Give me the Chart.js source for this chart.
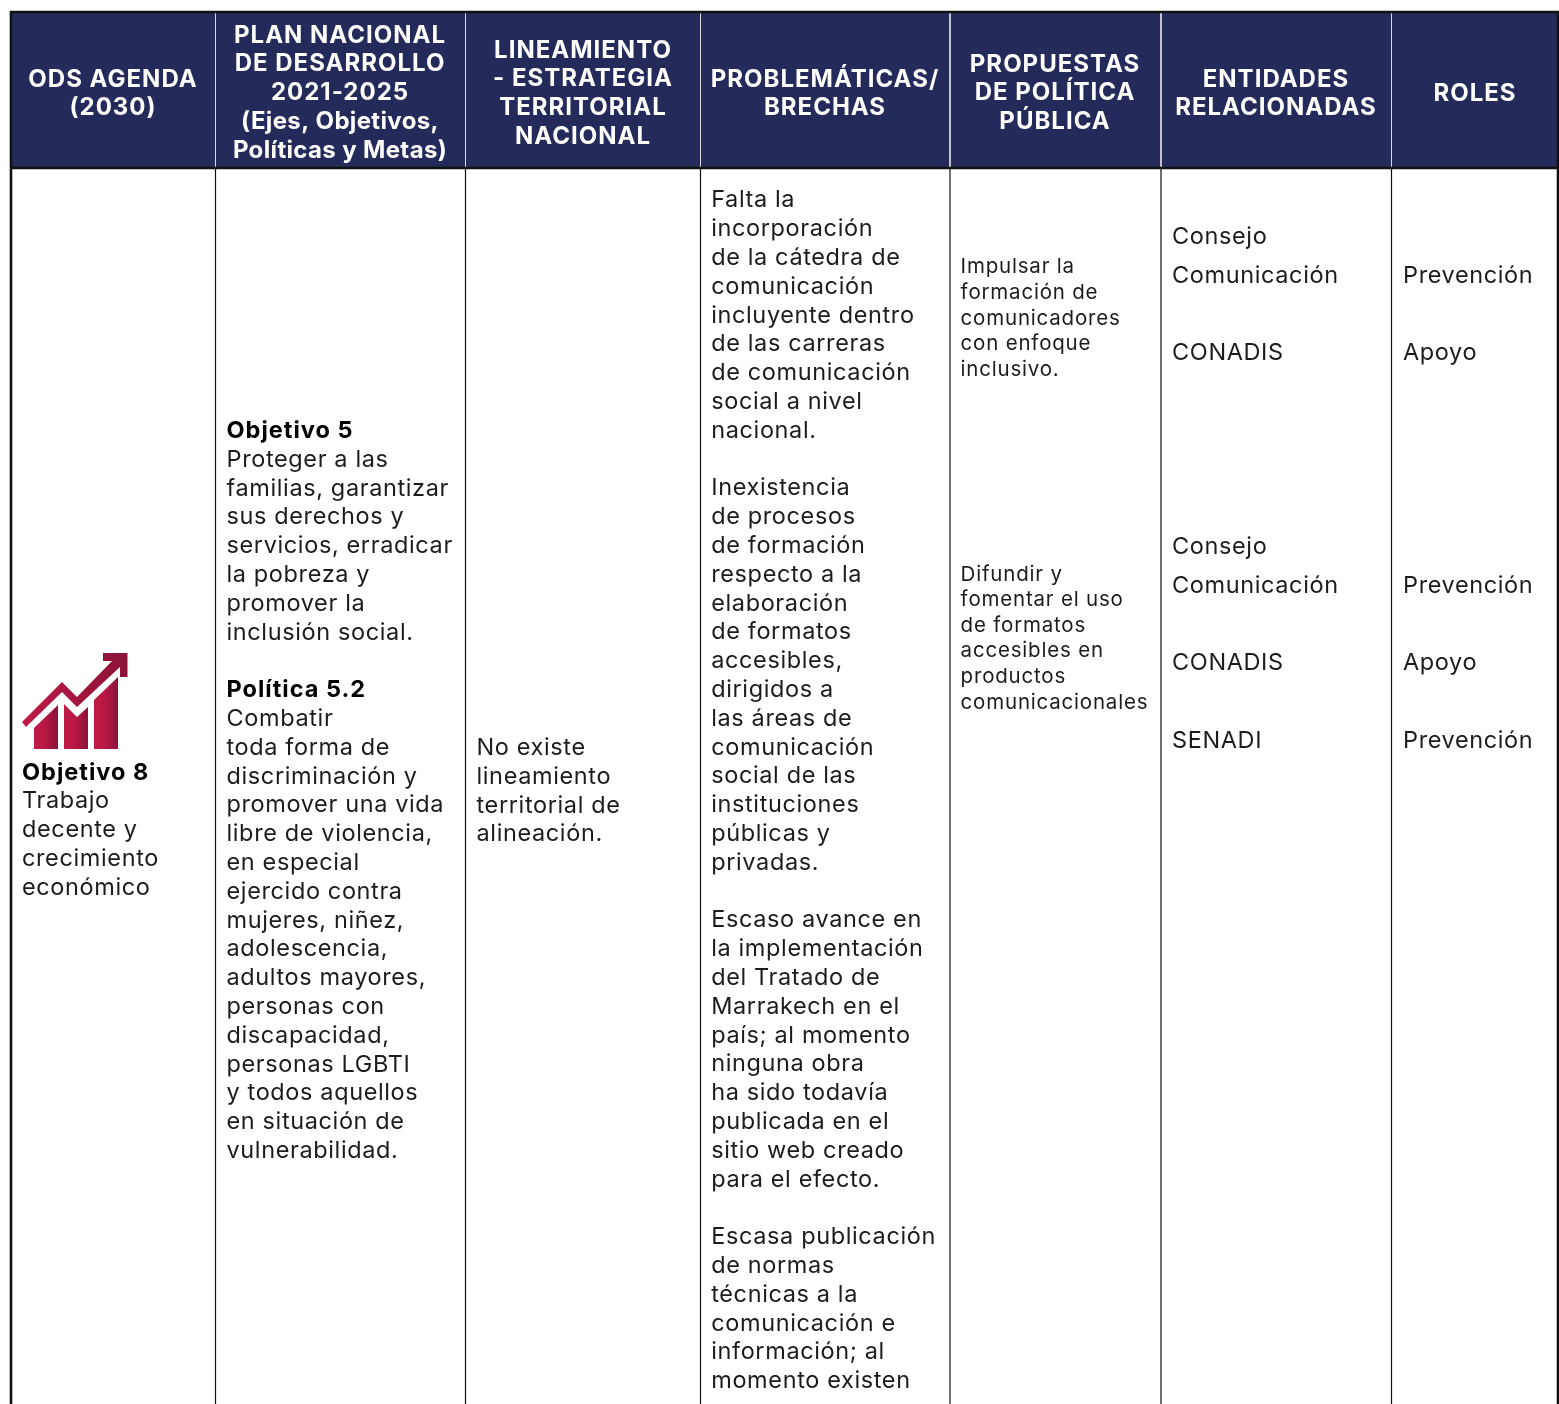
<!DOCTYPE html>
<html lang="es"><head><meta charset="utf-8">
<style>html,body{margin:0;padding:0;background:#fff}canvas{display:block}</style>
<script src="https://cdn.jsdelivr.net/npm/chart.js@4/dist/chart.umd.min.js"></script>
</head><body><canvas id="c" width="1559" height="1404"></canvas>
<script>
const headerOds=["ODS AGENDA","(2030)"];
const headerPlan=["PLAN NACIONAL","DE DESARROLLO","2021-2025","(Ejes, Objetivos,","Políticas y Metas)"];
const headerLineamiento=["LINEAMIENTO","- ESTRATEGIA","TERRITORIAL","NACIONAL"];
const headerProblematicas=["PROBLEMÁTICAS/","BRECHAS"];
const headerPropuestas=["PROPUESTAS","DE POLÍTICA","PÚBLICA"];
const headerEntidades=["ENTIDADES","RELACIONADAS"];
const headerRoles=["ROLES"];
const ods=["*Objetivo 8","Trabajo","decente y","crecimiento","económico"];
const plan=["*Objetivo 5","Proteger a las","familias, garantizar","sus derechos y","servicios, erradicar","la pobreza y","promover la","inclusión social.","","*Política 5.2","Combatir","toda forma de","discriminación y","promover una vida","libre de violencia,","en especial","ejercido contra","mujeres, niñez,","adolescencia,","adultos mayores,","personas con","discapacidad,","personas LGBTI","y todos aquellos","en situación de","vulnerabilidad."];
const lineamiento=["No existe","lineamiento","territorial de","alineación."];
const problematicas=["Falta la","incorporación","de la cátedra de","comunicación","incluyente dentro","de las carreras","de comunicación","social a nivel","nacional.","","Inexistencia","de procesos","de formación","respecto a la","elaboración","de formatos","accesibles,","dirigidos a","las áreas de","comunicación","social de las","instituciones","públicas y","privadas.","","Escaso avance en","la implementación","del Tratado de","Marrakech en el","país; al momento","ninguna obra","ha sido todavía","publicada en el","sitio web creado","para el efecto.","","Escasa publicación","de normas","técnicas a la","comunicación e","información; al","momento existen"];
const propuestas=["Impulsar la","formación de","comunicadores","con enfoque","inclusivo.","","","","","","","","Difundir y","fomentar el uso","de formatos","accesibles en","productos","comunicacionales"];
const entidades=["Consejo","Comunicación","","CONADIS","","","","","Consejo","Comunicación","","CONADIS","","SENADI"];
const roles=["","Prevención","","Apoyo","","","","","","Prevención","","Apoyo","","Prevención"];
const columnRules=[215.5,465.5,700.5,950,1161,1391.5];
const iconBars=[[[34,749],[34,728],[58,705],[58,749]],[[64,749],[64,704],[77,717],[88,707],[88,749]],[[94,749],[94,700],[118,677],[118,749]]];
const iconArrow=[[22,722],[62,682],[77,697],[112,661],[103,661],[103,653],[127.5,653],[127.5,677],[120,677],[120,667],[77,707],[62,692],[26,727]];

const NAVY='#242a5a', INK='#1c1c1c', FONT='Inter';
const headerBlocks=[[headerOds,113,78],[headerPlan,340,34],[headerLineamiento,583,49],[headerProblematicas,825,78],[headerPropuestas,1055,63],[headerEntidades,1276,78],[headerRoles,1475,92]];
const bodyBlocks=[[ods,22,771.5,28.8,23.5],[plan,226.5,430,28.8,23.5],[lineamiento,476.5,747,28.8,23.5],[problematicas,711.2,199.3,28.8,23.5],[propuestas,960.6,265.3,25.6,20.5],[entidades,1172,236,38.75,23.5],[roles,1403,236,38.75,23.5]];

const textPlugin={id:'tableText',afterDatasetsDraw(chart){
  const {ctx,scales:{x,y}}=chart;
  ctx.save();
  const poly=(pts)=>{ctx.beginPath();pts.forEach((p,i)=>{const X=x.getPixelForValue(p[0]),Y=y.getPixelForValue(p[1]);i?ctx.lineTo(X,Y):ctx.moveTo(X,Y);});ctx.closePath();};
  iconBars.forEach(b=>{const xs=b.map(p=>p[0]);const g=ctx.createLinearGradient(Math.min(...xs),0,Math.max(...xs),0);g.addColorStop(0,'#c01a46');g.addColorStop(.45,'#b81843');g.addColorStop(1,'#8a1339');ctx.fillStyle=g;poly(b);ctx.fill();});
  const ga=ctx.createLinearGradient(22,0,128,0);ga.addColorStop(0,'#c01a46');ga.addColorStop(1,'#8a1339');ctx.fillStyle=ga;poly(iconArrow);ctx.fill();
  ctx.textBaseline='alphabetic';
  ctx.fillStyle='#ffffff';ctx.textAlign='center';ctx.font='700 24px '+FONT;
  headerBlocks.forEach(([lines,cx,top])=>lines.forEach((t,i)=>{
    ctx.letterSpacing=(t===t.toUpperCase()?'1px':'0.35px');
    ctx.fillText(t,x.getPixelForValue(cx),y.getPixelForValue(top+i*28.8+8.5));
  }));
  ctx.textAlign='left';
  bodyBlocks.forEach(([lines,lx,top,pitch,size])=>lines.forEach((t,i)=>{
    if(!t)return;const bold=t[0]==='*';
    ctx.fillStyle=bold?'#000000':INK;
    ctx.font=(bold?'700 ':'400 ')+size+'px '+FONT;ctx.letterSpacing=bold?'1px':(size>22?'0.62px':'0.8px');
    ctx.fillText(bold?t.slice(1):t,x.getPixelForValue(lx),y.getPixelForValue(top+i*pitch+8));
  }));
  ctx.restore();
}};

const ruleSets=[];
columnRules.forEach(v=>{
  ruleSets.push({data:[{x:v,y:13},{x:v,y:167}],borderColor:'#d8d9e4',borderWidth:1,showLine:true,pointRadius:0,order:1});
  ruleSets.push({data:[{x:v,y:169},{x:v,y:1404}],borderColor:'#111111',borderWidth:1.2,showLine:true,pointRadius:0,order:1});
});
new Chart(document.getElementById('c'),{
  type:'scatter',
  data:{datasets:[
    {data:[{x:11,y:12},{x:1558,y:12}],showLine:true,pointRadius:0,borderWidth:0,backgroundColor:NAVY,fill:{target:{value:168}},order:3},
    ...ruleSets,
    {data:[{x:11,y:1404},{x:11,y:12},{x:1558,y:12},{x:1558,y:1404}],showLine:true,pointRadius:0,borderColor:'#111111',borderWidth:2.6,order:0},
    {data:[{x:11,y:168},{x:1558,y:168}],showLine:true,pointRadius:0,borderColor:'#111111',borderWidth:2.4,order:0}
  ]},
  options:{responsive:false,animation:false,layout:{padding:0},
    plugins:{legend:{display:false},tooltip:{enabled:false},title:{display:false}},
    scales:{x:{type:'linear',min:0,max:1559,display:false},y:{type:'linear',min:0,max:1404,reverse:true,display:false}},
    elements:{line:{tension:0}}},
  plugins:[textPlugin]
});
</script></body></html>
